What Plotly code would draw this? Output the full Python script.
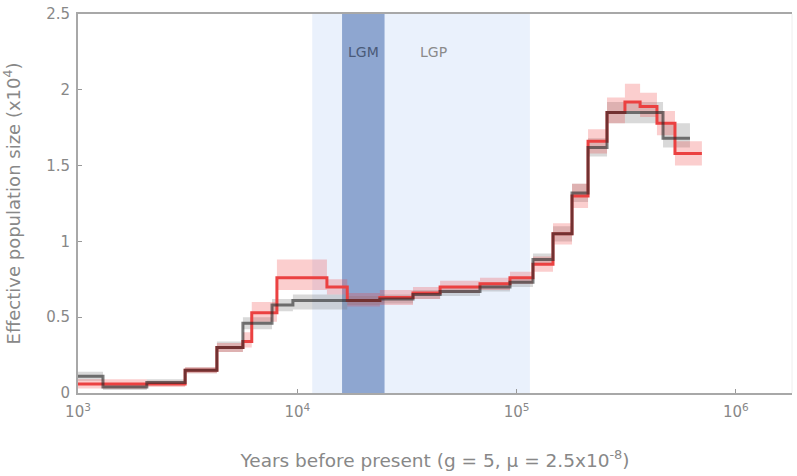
import math
import plotly.graph_objects as go

# ---- data ----
black_t = [1000, 1300, 2060, 3080, 4300, 5650, 7670, 9550, 16900, 23800, 33700, 44800,
           68100, 93300, 118800, 146600, 179000, 211800, 258500, 465400, 617600]
black_ne = [0.11, 0.04, 0.07, 0.15, 0.30, 0.46, 0.58, 0.61, 0.61, 0.62, 0.65, 0.67,
            0.70, 0.73, 0.88, 1.05, 1.32, 1.62, 1.85, 1.68, 1.68]
black_hi = [0.14, 0.06, 0.09, 0.17, 0.34, 0.50, 0.62, 0.65, 0.64, 0.65, 0.68, 0.70,
            0.73, 0.76, 0.92, 1.10, 1.38, 1.68, 1.92, 1.78, 1.78]
black_lo = [0.08, 0.02, 0.05, 0.13, 0.27, 0.42, 0.54, 0.55, 0.58, 0.59, 0.62, 0.64,
            0.67, 0.70, 0.85, 1.00, 1.26, 1.56, 1.78, 1.62, 1.62]

red_t = [1000, 2060, 3080, 4300, 5650, 6200, 8075, 13650, 16900, 23800, 33700, 44800,
         68100, 93300, 118800, 146600, 179000, 211800, 258500, 312000, 365800, 436700,
         527600, 700000]
red_ne = [0.06, 0.06, 0.15, 0.30, 0.34, 0.53, 0.76, 0.70, 0.61, 0.63, 0.66, 0.70,
          0.72, 0.76, 0.85, 1.05, 1.30, 1.66, 1.85, 1.92, 1.89, 1.78, 1.58, 1.58]
red_hi = [0.09, 0.08, 0.17, 0.33, 0.40, 0.60, 0.88, 0.75, 0.66, 0.68, 0.70, 0.74,
          0.76, 0.80, 0.90, 1.12, 1.38, 1.74, 1.95, 2.04, 1.98, 1.86, 1.66, 1.66]
red_lo = [0.03, 0.04, 0.13, 0.27, 0.30, 0.47, 0.68, 0.65, 0.57, 0.58, 0.62, 0.66,
          0.68, 0.72, 0.80, 0.98, 1.22, 1.58, 1.78, 1.86, 1.82, 1.70, 1.50, 1.50]

lgp_span = [11700, 115000]
lgm_span = [16000, 25000]
period_labels = ["LGM", "LGP"]
period_label_x = [20000, 42000]

x_tickvals = [1e3, 1e4, 1e5, 1e6]
x_ticktext = ["10<sup>3</sup>", "10<sup>4</sup>", "10<sup>5</sup>", "10<sup>6</sup>"]
y_tickvals = [0, 0.5, 1, 1.5, 2, 2.5]
y_ticktext = ["0", "0.5", "1", "1.5", "2", "2.5"]

fig = go.Figure()

# shaded periods
fig.add_vrect(x0=lgp_span[0], x1=lgp_span[1], fillcolor="#eaf1fc", line_width=0, layer="below")
fig.add_vrect(x0=lgm_span[0], x1=lgm_span[1], fillcolor="#8ea6d0", line_width=0, layer="below")

# confidence bands
fig.add_trace(go.Scatter(x=black_t, y=black_hi, mode="lines", line=dict(width=0, shape="hv"),
                         showlegend=False, hoverinfo="skip"))
fig.add_trace(go.Scatter(x=black_t, y=black_lo, mode="lines", line=dict(width=0, shape="hv"),
                         fill="tonexty", fillcolor="rgba(120,120,120,0.28)",
                         showlegend=False, hoverinfo="skip"))
fig.add_trace(go.Scatter(x=red_t, y=red_hi, mode="lines", line=dict(width=0, shape="hv"),
                         showlegend=False, hoverinfo="skip"))
fig.add_trace(go.Scatter(x=red_t, y=red_lo, mode="lines", line=dict(width=0, shape="hv"),
                         fill="tonexty", fillcolor="rgba(240,60,60,0.25)",
                         showlegend=False, hoverinfo="skip"))

# main curves
fig.add_trace(go.Scatter(x=red_t, y=red_ne, mode="lines",
                         line=dict(color="rgb(235,65,65)", width=3, shape="hv"),
                         showlegend=False))
fig.add_trace(go.Scatter(x=black_t, y=black_ne, mode="lines",
                         line=dict(color="rgba(40,40,40,0.62)", width=3, shape="hv"),
                         showlegend=False))

# period labels (log axis: annotation x in log10 units)
fig.add_annotation(x=math.log10(period_label_x[0]), y=2.25, text=period_labels[0],
                   showarrow=False, font=dict(size=14, color="#4a5a78"), xref="x", yref="y")
fig.add_annotation(x=math.log10(period_label_x[1]), y=2.25, text=period_labels[1],
                   showarrow=False, font=dict(size=14, color="#8a8a8a"), xref="x", yref="y")

# faint right border
fig.add_shape(type="line", xref="paper", yref="paper", x0=1, x1=1, y0=0, y1=1,
              line=dict(color="#eeeeee", width=1))

fam = "DejaVu Sans, sans-serif"
axis_font = dict(family=fam, size=15, color="#888888")
fig.update_layout(
    width=797, height=476,
    margin=dict(l=78, r=5, t=14, b=83),
    paper_bgcolor="white", plot_bgcolor="white",
    font=dict(family=fam, color="#888888"),
    xaxis=dict(type="log", range=[3, 6.256], tickvals=x_tickvals, ticktext=x_ticktext,
               showgrid=False, zeroline=False, showline=True, linecolor="#a8a8a8", linewidth=2,
               mirror=True, ticks="inside", ticklen=4, tickcolor="#999999",
               tickfont=axis_font, automargin=False, ticklabelstandoff=4,
               ticklabeloverflow="allow",
               title=dict(text="Years before present (g = 5, μ = 2.5x10<sup>-8</sup>)",
                          font=dict(family=fam, size=18.5, color="#888888"), standoff=34)),
    yaxis=dict(range=[0, 2.5], tickvals=y_tickvals, ticktext=y_ticktext,
               showgrid=False, zeroline=False, showline=True, linecolor="#a8a8a8", linewidth=2,
               ticks="inside", ticklen=4, tickcolor="#999999", tickfont=axis_font,
               automargin=False, ticklabelstandoff=3, ticklabeloverflow="allow",
               title=dict(text="Effective population size (x10<sup>4</sup>)",
                          font=dict(family=fam, size=18, color="#888888"), standoff=34)),
)

fig.write_html("out.html", config={"displayModeBar": False},
               post_script="document.body.style.margin='0';")
